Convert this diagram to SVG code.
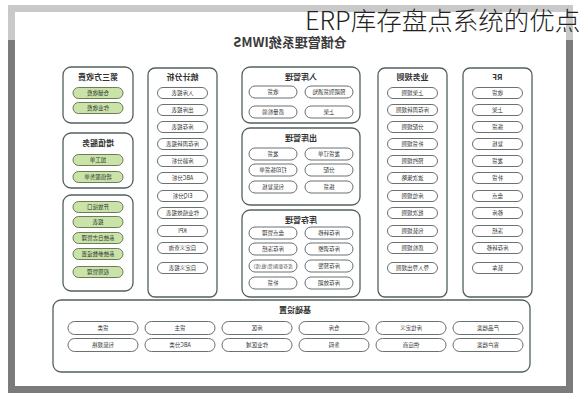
<svg xmlns="http://www.w3.org/2000/svg" width="580" height="400" viewBox="0 0 580 400">
<style>
.box{fill:#fff;stroke:#51605f;stroke-width:1.3}
.p{fill:#fff;stroke:#5a6060;stroke-width:0.9}
.g{fill:#c9e3a8;stroke:#5f6f4a;stroke-width:0.9}
.h{font-family:"Noto Sans CJK SC","Noto Sans",sans-serif;font-size:8px;font-weight:bold;fill:#333;text-anchor:middle}
.t{font-family:"Noto Sans CJK SC","Noto Sans",sans-serif;font-size:5.5px;fill:#333;text-anchor:middle;dominant-baseline:central}
.lt{fill:#c9c9c9}.dk{fill:#7b7b7b}
</style>
<rect width="580" height="400" fill="#fff"/>
<g id="frame">
<rect class="lt" x="8" y="5" width="565" height="7"/>
<rect class="lt" x="8" y="5" width="7" height="35"/>
<rect class="lt" x="566" y="5" width="7" height="35"/>
<rect class="dk" x="8" y="40" width="7" height="353"/>
<rect class="dk" x="566" y="40" width="7" height="353"/>
<rect class="dk" x="8" y="386" width="565" height="7"/>
</g>
<g id="diagram" transform="matrix(-1 0 0 1 580 0)">
<text x="290" y="47" class="h" style="font-size:13px;fill:#3a3a3a">仓储管理系统IWMS</text>
<g id="connectors"/>
<g id="rf">
<rect class="box" x="48" y="68" width="69" height="229" rx="7"/>
<text class="h" x="82.5" y="80">RF</text>
<rect class="p" x="57.5" y="87.5" width="50" height="11" rx="5.5"/><text class="t" x="82.5" y="93">收货</text>
<rect class="p" x="57.5" y="104.5" width="50" height="11" rx="5.5"/><text class="t" x="82.5" y="110">上架</text>
<rect class="p" x="57.5" y="121.5" width="50" height="11" rx="5.5"/><text class="t" x="82.5" y="127">拣货</text>
<rect class="p" x="57.5" y="138.5" width="50" height="11" rx="5.5"/><text class="t" x="82.5" y="144">复核</text>
<rect class="p" x="57.5" y="155.5" width="50" height="11" rx="5.5"/><text class="t" x="82.5" y="161">发货</text>
<rect class="p" x="57.5" y="172.5" width="50" height="11" rx="5.5"/><text class="t" x="82.5" y="178">补货</text>
<rect class="p" x="57.5" y="190.5" width="50" height="11" rx="5.5"/><text class="t" x="82.5" y="196">盘点</text>
<rect class="p" x="57.5" y="207.5" width="50" height="11" rx="5.5"/><text class="t" x="82.5" y="213">移库</text>
<rect class="p" x="57.5" y="225.5" width="50" height="11" rx="5.5"/><text class="t" x="82.5" y="231">冻结</text>
<rect class="p" x="57.5" y="242.5" width="50" height="11" rx="5.5"/><text class="t" x="82.5" y="248">库存转移</text>
<rect class="p" x="57.5" y="262.5" width="50" height="11" rx="5.5"/><text class="t" x="82.5" y="268">装车</text>
</g>
<g id="rules">
<rect class="box" x="133" y="68" width="69" height="229" rx="7"/>
<text class="h" x="167.5" y="80">业务规则</text>
<rect class="p" x="142.5" y="87.5" width="50" height="11" rx="5.5"/><text class="t" x="167.5" y="93">上架规则</text>
<rect class="p" x="142.5" y="104.5" width="50" height="11" rx="5.5"/><text class="t" x="167.5" y="110">库存周转规则</text>
<rect class="p" x="142.5" y="121.5" width="50" height="11" rx="5.5"/><text class="t" x="167.5" y="127">分配规则</text>
<rect class="p" x="142.5" y="138.5" width="50" height="11" rx="5.5"/><text class="t" x="167.5" y="144">补货规则</text>
<rect class="p" x="142.5" y="155.5" width="50" height="11" rx="5.5"/><text class="t" x="167.5" y="161">预约规则</text>
<rect class="p" x="142.5" y="172.5" width="50" height="11" rx="5.5"/><text class="t" x="167.5" y="178">波次策略</text>
<rect class="p" x="142.5" y="190.5" width="50" height="11" rx="5.5"/><text class="t" x="167.5" y="196">库位规则</text>
<rect class="p" x="142.5" y="207.5" width="50" height="11" rx="5.5"/><text class="t" x="167.5" y="213">批次规则</text>
<rect class="p" x="142.5" y="225.5" width="50" height="11" rx="5.5"/><text class="t" x="167.5" y="231">包装规则</text>
<rect class="p" x="142.5" y="242.5" width="50" height="11" rx="5.5"/><text class="t" x="167.5" y="248">质检规则</text>
<rect class="p" x="142.5" y="262.5" width="50" height="11" rx="5.5"/><text class="t" x="167.5" y="268">导入导出规则</text>
</g>
<g id="inbound">
<rect class="box" x="220" y="67" width="118" height="56" rx="8"/>
<text class="h" x="279" y="80">入库管理</text>
<rect class="p" x="227" y="86" width="48" height="12" rx="6"/><text class="t" x="251" y="92">预期到货通知</text>
<rect class="p" x="283" y="86" width="48" height="12" rx="6"/><text class="t" x="307" y="92">收货</text>
<rect class="p" x="227" y="106" width="48" height="12" rx="6"/><text class="t" x="251" y="112">上架</text>
<rect class="p" x="283" y="106" width="48" height="12" rx="6"/><text class="t" x="307" y="112">质量检验</text>
</g>
<g id="outbound">
<rect class="box" x="220" y="128" width="118" height="77" rx="8"/>
<text class="h" x="279" y="141">出库管理</text>
<rect class="p" x="227" y="148" width="48" height="12" rx="6"/><text class="t" x="251" y="154">发货订单</text>
<rect class="p" x="283" y="148" width="48" height="12" rx="6"/><text class="t" x="307" y="154">发货</text>
<rect class="p" x="227" y="164" width="48" height="12" rx="6"/><text class="t" x="251" y="170">分配</text>
<rect class="p" x="283" y="164" width="48" height="12" rx="6"/><text class="t" x="307" y="170">打印拣货单</text>
<rect class="p" x="227" y="181" width="48" height="12" rx="6"/><text class="t" x="251" y="187">拣货</text>
<rect class="p" x="283" y="181" width="48" height="12" rx="6"/><text class="t" x="307" y="187">包装复核</text>
</g>
<g id="inventory">
<rect class="box" x="220" y="210" width="118" height="87" rx="8"/>
<text class="h" x="279" y="223">库存管理</text>
<rect class="p" x="227" y="227" width="48" height="12" rx="6"/><text class="t" x="251" y="233">库存转移</text>
<rect class="p" x="283" y="227" width="48" height="12" rx="6"/><text class="t" x="307" y="233">盘点管理</text>
<rect class="p" x="227" y="243" width="48" height="12" rx="6"/><text class="t" x="251" y="249">库存调整</text>
<rect class="p" x="283" y="243" width="48" height="12" rx="6"/><text class="t" x="307" y="249">库存冻结</text>
<rect class="p" x="227" y="260" width="48" height="12" rx="6"/><text class="t" x="251" y="266">库存预警</text>
<rect class="p" x="283" y="260" width="48" height="12" rx="6"/><text class="t" x="307" y="266" style="font-size:4.6px">库存查询(货/批/库)</text>
<rect class="p" x="227" y="277" width="48" height="12" rx="6"/><text class="t" x="251" y="283">库存效期</text>
<rect class="p" x="283" y="277" width="48" height="12" rx="6"/><text class="t" x="307" y="283">补货</text>
</g>
<g id="stats">
<rect class="box" x="363" y="68" width="69" height="229" rx="7"/>
<text class="h" x="397.5" y="80">统计分析</text>
<rect class="p" x="372.5" y="87.5" width="50" height="11" rx="5.5"/><text class="t" x="397.5" y="93">入库报表</text>
<rect class="p" x="372.5" y="104.5" width="50" height="11" rx="5.5"/><text class="t" x="397.5" y="110">出库报表</text>
<rect class="p" x="372.5" y="121.5" width="50" height="11" rx="5.5"/><text class="t" x="397.5" y="127">库存报表</text>
<rect class="p" x="372.5" y="138.5" width="50" height="11" rx="5.5"/><text class="t" x="397.5" y="144">库存周转报表</text>
<rect class="p" x="372.5" y="155.5" width="50" height="11" rx="5.5"/><text class="t" x="397.5" y="161">库龄分析</text>
<rect class="p" x="372.5" y="172.5" width="50" height="11" rx="5.5"/><text class="t" x="397.5" y="178">ABC分析</text>
<rect class="p" x="372.5" y="190.5" width="50" height="11" rx="5.5"/><text class="t" x="397.5" y="196">EIQ分析</text>
<rect class="p" x="372.5" y="207.5" width="50" height="11" rx="5.5"/><text class="t" x="397.5" y="213">作业绩效报表</text>
<rect class="p" x="372.5" y="225.5" width="50" height="11" rx="5.5"/><text class="t" x="397.5" y="231">KPI</text>
<rect class="p" x="372.5" y="242.5" width="50" height="11" rx="5.5"/><text class="t" x="397.5" y="248">自定义查询</text>
<rect class="p" x="372.5" y="262.5" width="50" height="11" rx="5.5"/><text class="t" x="397.5" y="268">自定义报表</text>
</g>
<g id="billing">
<rect class="box" x="447" y="67" width="70" height="56" rx="8"/>
<text class="h" x="482" y="80">第三方收费</text>
<rect class="g" x="457" y="87.5" width="50" height="11" rx="5.5"/><text class="t" x="482" y="93">仓储收费</text>
<rect class="g" x="457" y="102.5" width="50" height="11" rx="5.5"/><text class="t" x="482" y="108">作业收费</text>
</g>
<g id="vas">
<rect class="box" x="447" y="133" width="70" height="55" rx="8"/>
<text class="h" x="482" y="146">增值服务</text>
<rect class="g" x="457" y="154.5" width="50" height="11" rx="5.5"/><text class="t" x="482" y="160">加工单</text>
<rect class="g" x="457" y="171.5" width="50" height="11" rx="5.5"/><text class="t" x="482" y="177">增值服务单</text>
</g>
<g id="system">
<rect class="box" x="447" y="195" width="70" height="96" rx="8"/>
<rect class="g" x="457" y="201.5" width="50" height="11" rx="5.5"/><text class="t" x="482" y="207">开放接口</text>
<rect class="g" x="457" y="216.5" width="50" height="11" rx="5.5"/><text class="t" x="482" y="222">报表</text>
<rect class="g" x="457" y="232.5" width="50" height="11" rx="5.5"/><text class="t" x="482" y="238">系统日志管理</text>
<rect class="g" x="457" y="248.5" width="50" height="11" rx="5.5"/><text class="t" x="482" y="254">系统参数设置</text>
<rect class="g" x="457" y="266.5" width="50" height="11" rx="5.5"/><text class="t" x="482" y="272">权限管理</text>
</g>
<g id="base">
<rect class="box" x="50" y="300" width="477" height="72" rx="8"/>
<text class="h" x="285" y="313">基础设置</text>
<rect class="p" x="57" y="321.5" width="70" height="13" rx="6.5"/><text class="t" x="92" y="328">产品档案</text>
<rect class="p" x="134" y="321.5" width="70" height="13" rx="6.5"/><text class="t" x="169" y="328">库位定义</text>
<rect class="p" x="211" y="321.5" width="70" height="13" rx="6.5"/><text class="t" x="246" y="328">仓库</text>
<rect class="p" x="288" y="321.5" width="70" height="13" rx="6.5"/><text class="t" x="323" y="328">库区</text>
<rect class="p" x="365" y="321.5" width="70" height="13" rx="6.5"/><text class="t" x="400" y="328">货主</text>
<rect class="p" x="442" y="321.5" width="70" height="13" rx="6.5"/><text class="t" x="477" y="328">货类</text>
<rect class="p" x="57" y="338.5" width="70" height="13" rx="6.5"/><text class="t" x="92" y="345">客户档案</text>
<rect class="p" x="134" y="338.5" width="70" height="13" rx="6.5"/><text class="t" x="169" y="345">供应商</text>
<rect class="p" x="211" y="338.5" width="70" height="13" rx="6.5"/><text class="t" x="246" y="345">条码</text>
<rect class="p" x="288" y="338.5" width="70" height="13" rx="6.5"/><text class="t" x="323" y="345">作业区域</text>
<rect class="p" x="365" y="338.5" width="70" height="13" rx="6.5"/><text class="t" x="400" y="345">ABC分类</text>
<rect class="p" x="442" y="338.5" width="70" height="13" rx="6.5"/><text class="t" x="477" y="345">包装规格</text>
</g>
</g>
<text x="305" y="30" style="font-family:'Noto Sans CJK SC','Noto Sans',sans-serif;font-size:25.5px;font-weight:300;fill:#222">ERP库存盘点系统的优点</text>
</svg>
